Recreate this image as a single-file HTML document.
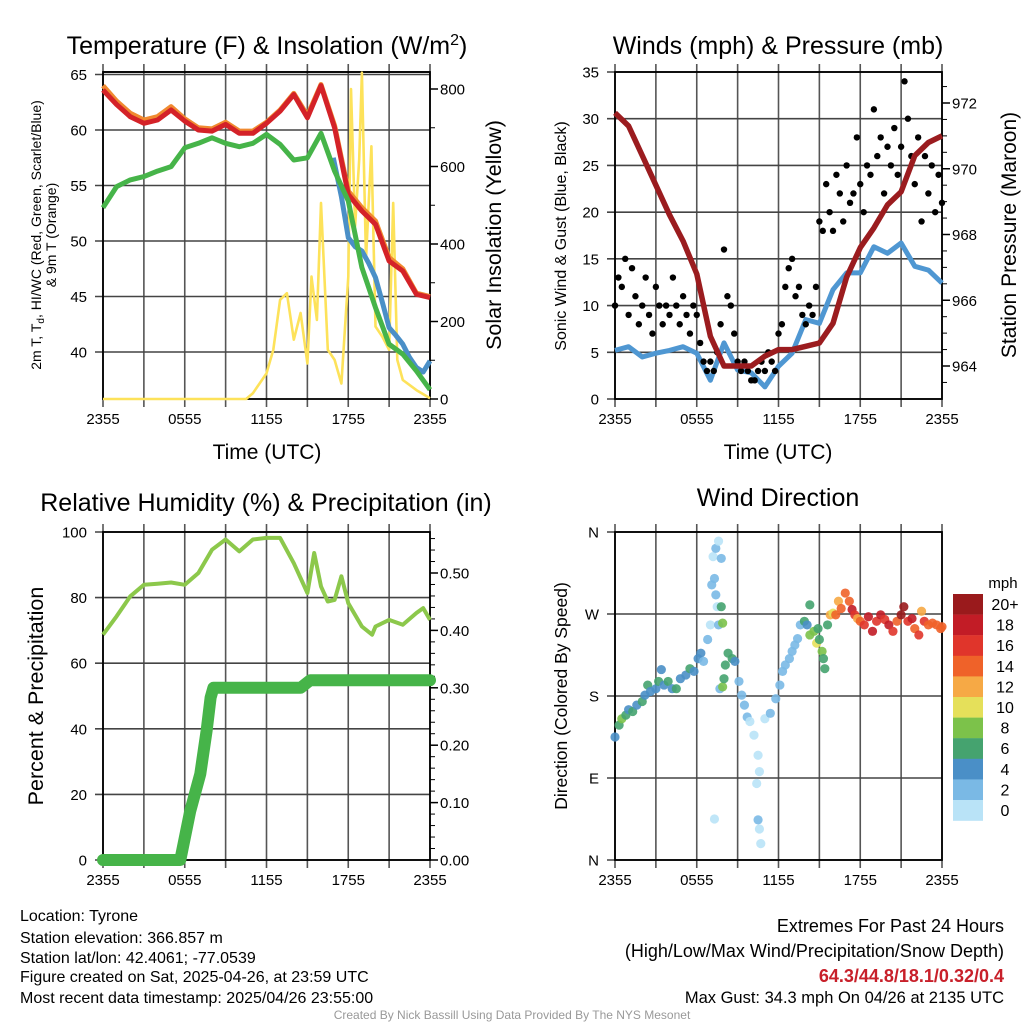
<!DOCTYPE html>
<html><head><meta charset="utf-8">
<style>
body{margin:0;background:#fff;width:1024px;height:1024px;overflow:hidden;font-family:"Liberation Sans",Arial,sans-serif;}
svg text{font-family:"Liberation Sans",Arial,sans-serif;fill:#000;}
</style></head>
<body>
<svg id="chart" width="1024" height="1024" viewBox="0 0 1024 1024" xmlns="http://www.w3.org/2000/svg">
<text x="267" y="54" font-size="25" text-anchor="middle">Temperature (F) &amp; Insolation (W/m<tspan dy="-9" font-size="16">2</tspan><tspan dy="9">)</tspan></text>
<text x="778" y="54" font-size="25" text-anchor="middle">Winds (mph) &amp; Pressure (mb)</text>
<text x="266" y="511" font-size="25" text-anchor="middle">Relative Humidity (%) &amp; Precipitation (in)</text>
<text x="778" y="506" font-size="25" text-anchor="middle">Wind Direction</text>
<text x="267" y="459" font-size="21" text-anchor="middle">Time (UTC)</text>
<text x="778" y="459" font-size="21" text-anchor="middle">Time (UTC)</text>
<text transform="translate(41,235) rotate(-90)" font-size="14" text-anchor="middle">2m T, T<tspan dy="3" font-size="10">d</tspan><tspan dy="-3">, HI/WC (Red, Green, Scarlet/Blue)</tspan></text>
<text transform="translate(56,235) rotate(-90)" font-size="14" text-anchor="middle">&amp; 9m T (Orange)</text>
<text transform="translate(501,235) rotate(-90)" font-size="21.5" text-anchor="middle">Solar Insolation (Yellow)</text>
<text transform="translate(566,236) rotate(-90)" font-size="16" text-anchor="middle">Sonic Wind &amp; Gust (Blue, Black)</text>
<text transform="translate(1016,235) rotate(-90)" font-size="21" text-anchor="middle">Station Pressure (Maroon)</text>
<text transform="translate(43,696) rotate(-90)" font-size="21.5" text-anchor="middle">Percent &amp; Precipitation</text>
<text transform="translate(567,696) rotate(-90)" font-size="17.5" text-anchor="middle">Direction (Colored By Speed)</text>
<g font-size="16">
<text x="20" y="921">Location: Tyrone</text>
<text x="20" y="943">Station elevation: 366.857 m</text>
<text x="20" y="963">Station lat/lon: 42.4061; -77.0539</text>
<text x="20" y="982">Figure created on Sat, 2025-04-26, at 23:59 UTC</text>
<text x="20" y="1003">Most recent data timestamp: 2025/04/26 23:55:00</text>
</g>
<g font-size="18" text-anchor="end">
<text x="1004" y="932">Extremes For Past 24 Hours</text>
<text x="1004" y="957">(High/Low/Max Wind/Precipitation/Snow Depth)</text>
<text x="1004" y="982" style="fill:#c8202a;font-weight:bold">64.3/44.8/18.1/0.32/0.4</text>
<text x="1004" y="1003" font-size="16.5">Max Gust: 34.3 mph On 04/26 at 2135 UTC</text>
</g>
<text x="512" y="1019" font-size="12" text-anchor="middle" style="fill:#999">Created By Nick Bassill Using Data Provided By The NYS Mesonet</text>
</svg>
<script>
// ---------- data ----------
const hours = [0,1,2,3,4,5,6,7,8,9,10,11,12,13,14,15,16,17,18,19,20,21,22,23,24];
const xTickLabels = ["2355","0555","1155","1755","2355"];
const tempRed = [63.6,62.3,61.2,60.6,60.9,61.8,60.8,60.0,59.9,60.5,59.7,59.7,60.6,61.7,63.2,61.1,64.0,60.2,54.2,52.7,51.5,48.2,47.3,45.2,44.9];
const temp9m = [64.0,62.6,61.5,60.9,61.2,62.1,61.0,60.2,60.1,60.7,59.9,59.9,60.7,61.8,63.3,61.3,64.1,60.4,54.5,53.0,51.8,48.5,47.5,45.3,45.0];
const dewGreen = [53.0,54.9,55.5,55.8,56.3,56.7,58.4,58.8,59.3,58.8,58.5,58.8,59.6,58.7,57.3,57.5,59.7,56.3,53.6,47.6,44.0,40.7,39.8,38.3,36.6];
const wcTimes = [16.9,17.5,18,18.5,19,19.5,20,20.5,21,21.5,22,22.5,23,23.5,24];
const wcBlue = [57.5,54.0,50.3,49.5,49.1,48.0,46.7,44.5,42.2,41.5,40.7,39.5,38.6,38.2,39.2];
const solarTimes = [0,10.5,11,12,12.5,13,13.5,14,14.5,15,15.3,15.7,16,16.5,17,17.5,18,18.2,18.5,18.8,19,19.3,19.7,20,20.5,21,21.3,21.6,22,23,24];
const solarVals = [0,0,15,66,127,256,273,153,222,92,316,204,506,127,101,40,316,800,446,618,842,360,652,187,161,127,506,101,49,23,2];
const tempTicks = [40,45,50,55,60,65];
const solarTicks = [0,200,400,600,800];

const windBlue = [5.2,5.6,4.5,4.9,5.2,5.6,4.9,2.0,6.0,3.1,2.8,1.3,3.5,4.9,8.5,8.1,11.7,13.5,13.5,16.3,15.6,16.7,14.2,13.8,12.4];
const gustVals = [10,13,12,15,9,14,11,8,10,13,9,7,12,10,8,10,9,13,10,8,11,9,7,10,9,6,4,3,4,3,5,8,16,11,10,7,4,3,4,3,2,2,3,4,3,5,4,3,7,8,12,14,15,11,12,9,8,10,9,12,19,18,23,20,18,24,22,19,25,21,22,28,23,20,25,24,31,26,28,22,27,25,29,24,27,34,30,26,23,28,19,26,22,25,20,24,21];
const pressure = [971.7,971.3,970.4,969.5,968.6,967.8,966.8,964.9,964.0,964.0,964.0,964.3,964.5,964.5,964.6,964.7,965.3,966.7,967.6,968.2,968.9,969.3,970.4,970.8,971.0];
const windTicks = [0,5,10,15,20,25,30,35];
const pressTicks = [964,966,968,970,972];

const rhTimes = [0,1,2,3,4,5,6,7,8,9,10,11,12,13,14,15,15.5,16,16.5,17,17.5,18,19,19.75,20,21,22,23,23.5,24];
const rhVals = [68.7,74.3,80.4,83.9,84.2,84.6,83.9,87.5,94.6,97.7,94.1,97.7,98.2,98.2,90.5,81.4,93.6,83.4,78.8,79.3,86.5,78.3,71.2,68.7,71.2,73.2,71.7,75.3,76.8,73.2];
const precipTimes = [0,5.67,6.4,7.14,7.6,7.9,8.1,14.5,15.2,24];
const precipVals = [0,0,0.085,0.15,0.225,0.283,0.30,0.30,0.313,0.313];
const rhTicks = [0,20,40,60,80,100];
const precipTicks = ["0.00","0.10","0.20","0.30","0.40","0.50"];

const dirTimes = [0,0.3,0.5,0.8,1,1.3,1.6,2,2.2,2.4,2.6,3,3.2,3.4,3.6,3.9,4.2,4.5,4.8,5.2,5.5,5.8,6.1,6.3,6.5,6.8,7.0,7.1,7.2,7.4,7.6,7.8,7.3,7.4,7.5,7.6,7.8,7.9,7.7,7.9,8.0,8.1,8.3,8.6,8.8,9.1,9.3,9.5,9.7,9.9,10.2,10.5,10.6,10.4,10.5,10.6,10.7,7.3,11.0,11.4,11.8,12.1,12.3,12.5,12.8,13.0,13.2,13.4,13.6,13.9,14.1,14.3,14.6,14.9,14.8,15.0,15.2,15.3,15.4,14.3,15.6,15.8,16.0,16.2,16.4,16.6,16.9,17.2,17.4,17.6,17.8,18.0,18.3,18.6,18.9,19.2,19.5,19.8,20.1,20.4,20.7,21.0,21.2,21.5,21.8,22.0,22.3,22.5,22.7,23.0,23.3,23.6,23.9,24];
const dirVals = [135,148,155,159,165,163,170,174,181,192,185,188,196,209,192,196,188,188,199,203,210,207,221,227,218,242,258,302,333,342,350,331,309,291,278,258,278,260,188,190,199,214,227,221,218,196,181,170,157,152,137,115,97,84,44,34,18,45,155,161,177,192,207,214,221,229,236,243,258,262,258,247,251,254,238,242,229,221,210,280,258,269,271,269,284,276,293,284,275,269,265,262,258,267,251,262,269,264,258,251,262,269,278,262,265,254,247,273,262,258,260,258,254,256];
const dirSpeeds = [4,6,8,5,4,6,4,6,4,6,4,4,6,4,4,6,4,6,4,4,6,4,4,4,2,2,0,2,0,2,0,2,2,2,0,2,6,8,2,8,6,6,6,6,4,2,2,2,2,0,0,0,0,0,2,0,0,0,0,2,2,2,2,2,2,2,2,2,2,6,4,8,8,6,10,6,8,6,6,6,6,12,10,14,12,14,14,14,18,16,12,14,16,18,18,16,18,16,18,16,14,20,20,16,18,14,16,12,16,14,14,14,14,14];
const dirTicks = ["N","E","S","W","N"];
const cbLabels = ["20+","18","16","14","12","10","8","6","4","2","0"];
const cbColors = ["#9a1a1c","#c21c26","#e0352b","#ef6229","#f6a945","#e5e05a","#7cc24a","#45a36f","#4a8fc7","#7ab9e5","#b9e3f7"];

// ---------- helpers ----------
const svg = document.getElementById('chart');
const NS = 'http://www.w3.org/2000/svg';
function mk(tag, attrs, parent){const e=document.createElementNS(NS,tag);for(const k in attrs)e.setAttribute(k,attrs[k]);(parent||svg).appendChild(e);return e;}
function lin(d0,d1,r0,r1){return v=>r0+(v-d0)*(r1-r0)/(d1-d0);}
function pathD(xs,ys,fx,fy){return xs.map((t,i)=>(i?'L':'M')+fx(t).toFixed(1)+','+fy(ys[i]).toFixed(1)).join('');}

function panel(name,x0,x1,y0,y1,yl,yr,lt,lf,rt,rf,minor){
  const g=mk('g',{});
  
  
  for(let h=0;h<=24;h+=3){const x=x0+(x1-x0)*h/24;
    const l=mk('line',{x1:x,x2:x,y1:y0-8,y2:y1+8,stroke:'#555','stroke-width':1.6},g);
    
    }
  lt.forEach((v,i)=>{const y=yl(v);
    const l=mk('line',{x1:x0-8,x2:x1,y1:y,y2:y,stroke:'#444','stroke-width':1.6},g);
    
    
    const t=mk('text',{x:x0-16,y:y+5.5,'font-size':15,'text-anchor':'end'},g);t.textContent=lf(v,i);
    
    });
  rt.forEach((v,i)=>{const y=yr(v);
    mk('line',{x1:x1,x2:x1+8,y1:y,y2:y,stroke:'#000','stroke-width':1.5},g);
    const t=mk('text',{x:x1+10,y:y+5.5,'font-size':15},g);t.textContent=rf(v,i);
    
    });
  if(minor){minor.forEach(y=>mk('line',{x1:x1,x2:x1+5,y1:y,y2:y,stroke:'#000','stroke-width':1},g));}
  xTickLabels.forEach((s,i)=>{const x=x0+(x1-x0)*i/4;
    const t=mk('text',{x:x,y:y1+25,'font-size':15,'text-anchor':'middle'},g);t.textContent=s;
    
    });
  mk('rect',{x:x0,y:y0,width:x1-x0,height:y1-y0,fill:'none',stroke:'#000','stroke-width':1.8},g);
  return g;
}

// ---------- panel 1 ----------
(function(){
  const x0=103,x1=430,y0=72,y1=399;
  const fx=lin(0,24,x0,x1), fy=lin(40,65,352,74.5), fs=lin(0,800,399,89);
  const minor=[];for(let v=100;v<=800;v+=200)minor.push(fs(v));
  panel('temp',x0,x1,y0,y1,fy,fs,tempTicks,v=>v,solarTicks,v=>v,minor);
  mk('line',{x1:x0,x2:x1,y1:y0,y2:y0,stroke:'#000','stroke-width':1.5});
  const s=mk('path',{d:pathD(solarTimes,solarVals,fx,fs),fill:'none',stroke:'#fde25a','stroke-width':2.6,'stroke-linejoin':'round'});
  
  
  const o=mk('path',{d:pathD(hours,temp9m,fx,fy),fill:'none',stroke:'#f08a30','stroke-width':5,'stroke-linejoin':'round'});
  
  
  const r=mk('path',{d:pathD(hours,tempRed,fx,fy),fill:'none',stroke:'#d42228','stroke-width':5,'stroke-linejoin':'round'});
  
  
  const b=mk('path',{d:pathD(wcTimes,wcBlue,fx,fy),fill:'none',stroke:'#4a8fc7','stroke-width':5,'stroke-linejoin':'round'});
  
  
  const gr=mk('path',{d:pathD(hours,dewGreen,fx,fy),fill:'none',stroke:'#46b449','stroke-width':5,'stroke-linejoin':'round'});
  
  
})();

// ---------- panel 2 ----------
(function(){
  const x0=615,x1=942,y0=72,y1=399;
  const fx=lin(0,24,x0,x1), fy=lin(0,35,399,72), fp=lin(964,972,366,103);
  const minor=[];for(let v=963.5;v<=972.9;v+=0.5)minor.push(fp(v));
  panel('winds',x0,x1,y0,y1,fy,fp,windTicks,v=>v,pressTicks,v=>v,minor);
  const b=mk('path',{d:pathD(hours,windBlue,fx,fy),fill:'none',stroke:'#4f97d2','stroke-width':5,'stroke-linejoin':'round'});
  
  
  gustVals.forEach((v,i)=>{
    const c=mk('circle',{cx:fx(i*0.25),cy:fy(v),r:3.2,fill:'#000'});
    
    
  });
  const p=mk('path',{d:pathD(hours,pressure,fx,fp),fill:'none',stroke:'#9b1c1f','stroke-width':5.5,'stroke-linejoin':'round'});
  
  
})();

// ---------- panel 3 ----------
(function(){
  const x0=103,x1=430,y0=532,y1=860;
  const fx=lin(0,24,x0,x1), fy=lin(0,100,860,532), fr=lin(0,0.5,860,573);
  const minor=[];for(let v=0.02;v<0.57;v+=0.02)minor.push(fr(v));
  panel('humidity',x0,x1,y0,y1,fy,fr,rhTicks,v=>v,precipTicks.map(Number),(v,i)=>precipTicks[i],minor);
  const rh=mk('path',{d:pathD(rhTimes,rhVals,fx,fy),fill:'none',stroke:'#8cc84b','stroke-width':4,'stroke-linejoin':'round'});
  
  
  const pr=mk('path',{d:pathD(precipTimes,precipVals,fx,fr),fill:'none',stroke:'#46b449','stroke-width':12,'stroke-linejoin':'round','stroke-linecap':'round'});
  
  
})();

// ---------- panel 4 ----------
(function(){
  const x0=615,x1=942,y0=532,y1=860;
  const fx=lin(0,24,x0,x1), fy=lin(0,360,860,532);
  panel('direction',x0,x1,y0,y1,fy,fy,[0,90,180,270,360],(v,i)=>dirTicks[i],[],v=>'',null);
  dirVals.forEach((d,i)=>{
    const idx=Math.min(10,Math.round(dirSpeeds[i]/2));
    const c=mk('circle',{cx:fx(dirTimes[i]),cy:fy(d),r:4.6,fill:cbColors[10-idx],'fill-opacity':0.9});
    
    
  });
  const ct=mk('text',{x:1003,y:588,'font-size':15,'text-anchor':'middle'});ct.textContent='mph';
  
  
  cbColors.forEach((col,i)=>{
    const r=mk('rect',{x:953,y:594+i*20.6,width:30,height:20.8,fill:col});
    
    
    const t=mk('text',{x:1005,y:610+i*20.6,'font-size':16,'text-anchor':'middle'});t.textContent=cbLabels[i];
    
    
  });
})();
</script>
</body></html>
